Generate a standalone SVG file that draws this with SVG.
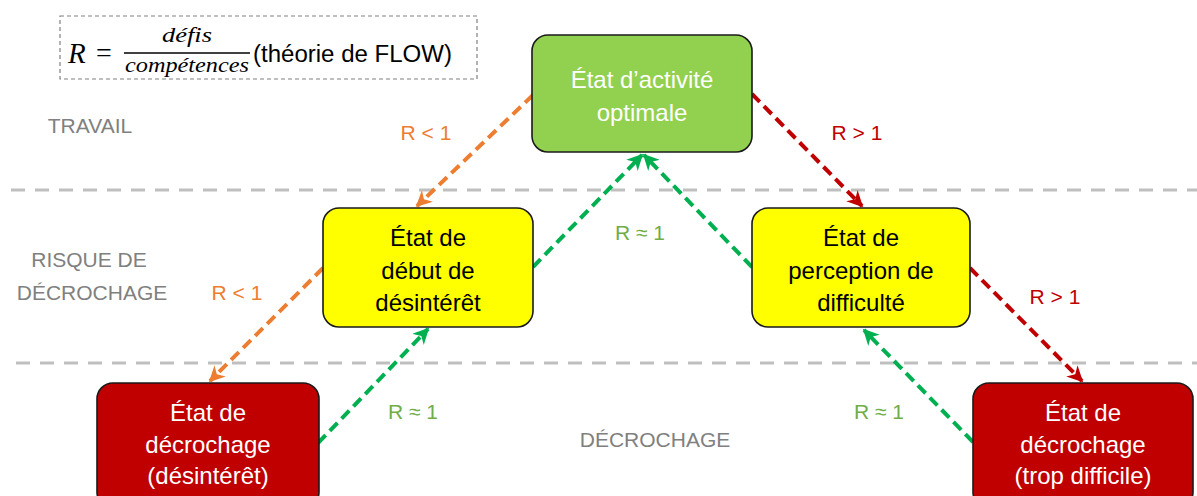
<svg xmlns="http://www.w3.org/2000/svg" width="1197" height="496" viewBox="0 0 1197 496">
<defs>
<style>
.node{stroke:#1a1a1a;stroke-width:1.6}
.t{font-family:"Liberation Sans",Arial,sans-serif;font-size:24px;text-anchor:middle}
.lbl{font-family:"Liberation Sans",Arial,sans-serif;font-size:21px;text-anchor:middle}
.zone{font-family:"Liberation Sans",Arial,sans-serif;font-size:21px;fill:#808080;text-anchor:middle}
.sep{stroke:#bfbfbf;stroke-width:3;stroke-dasharray:14 10;fill:none}
.c{stroke-width:4;stroke-dasharray:11 6;fill:none}
.math{font-family:"Liberation Serif","Times New Roman",serif;font-style:italic}
</style>
<marker id="aO" viewBox="0 0 10 10" refX="9" refY="5" markerWidth="4" markerHeight="4" orient="auto" markerUnits="strokeWidth"><path d="M0,0 L10,5 L0,10 L3,5 z" fill="#ED7D31"/></marker>
<marker id="aR" viewBox="0 0 10 10" refX="9" refY="5" markerWidth="4" markerHeight="4" orient="auto" markerUnits="strokeWidth"><path d="M0,0 L10,5 L0,10 L3,5 z" fill="#C00000"/></marker>
<marker id="aG" viewBox="0 0 10 10" refX="9" refY="5" markerWidth="4" markerHeight="4" orient="auto" markerUnits="strokeWidth"><path d="M0,0 L10,5 L0,10 L3,5 z" fill="#00B050"/></marker>
</defs>
<rect width="1197" height="496" fill="#fff"/>
<g id="separators">
<line class="sep" x1="11" y1="190" x2="1197" y2="190"/>
<line class="sep" x1="16" y1="363" x2="1197" y2="363"/>
</g>
<g id="formula">
<rect x="60" y="16" width="417" height="63" fill="none" stroke="#808080" stroke-width="1.2" stroke-dasharray="4 3"/>
<text class="math" x="68" y="63" font-size="29">R</text>
<text x="96" y="62" font-family="Liberation Serif,serif" font-size="28">=</text>
<text class="math" x="187" y="42" font-size="20" text-anchor="middle" textLength="50" lengthAdjust="spacingAndGlyphs">défis</text>
<line x1="124" y1="53" x2="250" y2="53" stroke="#000" stroke-width="1.3"/>
<text class="math" x="125" y="72" font-size="20" textLength="124" lengthAdjust="spacingAndGlyphs">compétences</text>
<text x="253" y="62" font-family="Liberation Sans,Arial,sans-serif" font-size="23" textLength="199" lengthAdjust="spacingAndGlyphs">(théorie de FLOW)</text>
</g>
<g id="zones">
<text class="zone" x="90" y="133">TRAVAIL</text>
<text class="zone" x="89" y="267">RISQUE DE</text>
<text class="zone" x="92" y="300">DÉCROCHAGE</text>
<text class="zone" x="655" y="447">DÉCROCHAGE</text>
</g>
<g id="connectors">
<line class="c" stroke="#ED7D31" x1="533" y1="95" x2="417" y2="206" marker-end="url(#aO)"/>
<line class="c" stroke="#ED7D31" x1="323" y1="268" x2="210" y2="381" marker-end="url(#aO)"/>
<line class="c" stroke="#C00000" x1="752" y1="94" x2="862" y2="206" marker-end="url(#aR)"/>
<line class="c" stroke="#C00000" x1="970" y1="268" x2="1082" y2="381" marker-end="url(#aR)"/>
<line class="c" stroke="#00B050" x1="533" y1="267" x2="642" y2="155" marker-end="url(#aG)"/>
<line class="c" stroke="#00B050" x1="752" y1="267" x2="644" y2="155" marker-end="url(#aG)"/>
<line class="c" stroke="#00B050" x1="318" y1="443" x2="428" y2="329" marker-end="url(#aG)"/>
<line class="c" stroke="#00B050" x1="973" y1="442" x2="864" y2="330" marker-end="url(#aG)"/>
<text class="lbl" fill="#ED7D31" x="426" y="140">R &lt; 1</text>
<text class="lbl" fill="#ED7D31" x="237" y="300">R &lt; 1</text>
<text class="lbl" fill="#C00000" x="857" y="140">R &gt; 1</text>
<text class="lbl" fill="#C00000" x="1055" y="304">R &gt; 1</text>
<text class="lbl" fill="#70AD47" x="640" y="240">R ≈ 1</text>
<text class="lbl" fill="#70AD47" x="413" y="419">R ≈ 1</text>
<text class="lbl" fill="#70AD47" x="879" y="419">R ≈ 1</text>
</g>
<g id="n-optimal">
<rect class="node" x="532" y="35" width="220" height="117" rx="16" fill="#92D050"/>
<text class="t" fill="#fff" x="642" y="88">État d’activité</text>
<text class="t" fill="#fff" x="642" y="121">optimale</text>
</g>
<g id="n-debut">
<rect class="node" x="323" y="208" width="210" height="119" rx="16" fill="#FFFF00"/>
<text class="t" fill="#000" x="428" y="246">État de</text>
<text class="t" fill="#000" x="428" y="279">début de</text>
<text class="t" fill="#000" x="428" y="311">désintérêt</text>
</g>
<g id="n-perception">
<rect class="node" x="752" y="208" width="218" height="119" rx="16" fill="#FFFF00"/>
<text class="t" fill="#000" x="861" y="246">État de</text>
<text class="t" fill="#000" x="861" y="279">perception de</text>
<text class="t" fill="#000" x="861" y="311">difficulté</text>
</g>
<g id="n-decrochage-desinteret">
<rect class="node" x="97" y="383" width="222" height="125" rx="16" fill="#C00000"/>
<text class="t" fill="#fff" x="208" y="421">État de</text>
<text class="t" fill="#fff" x="208" y="453">décrochage</text>
<text class="t" fill="#fff" x="208" y="484">(désintérêt)</text>
</g>
<g id="n-decrochage-difficile">
<rect class="node" x="973" y="383" width="220" height="125" rx="16" fill="#C00000"/>
<text class="t" fill="#fff" x="1083" y="421">État de</text>
<text class="t" fill="#fff" x="1083" y="453">décrochage</text>
<text class="t" fill="#fff" x="1083" y="484">(trop difficile)</text>
</g>
</svg>
